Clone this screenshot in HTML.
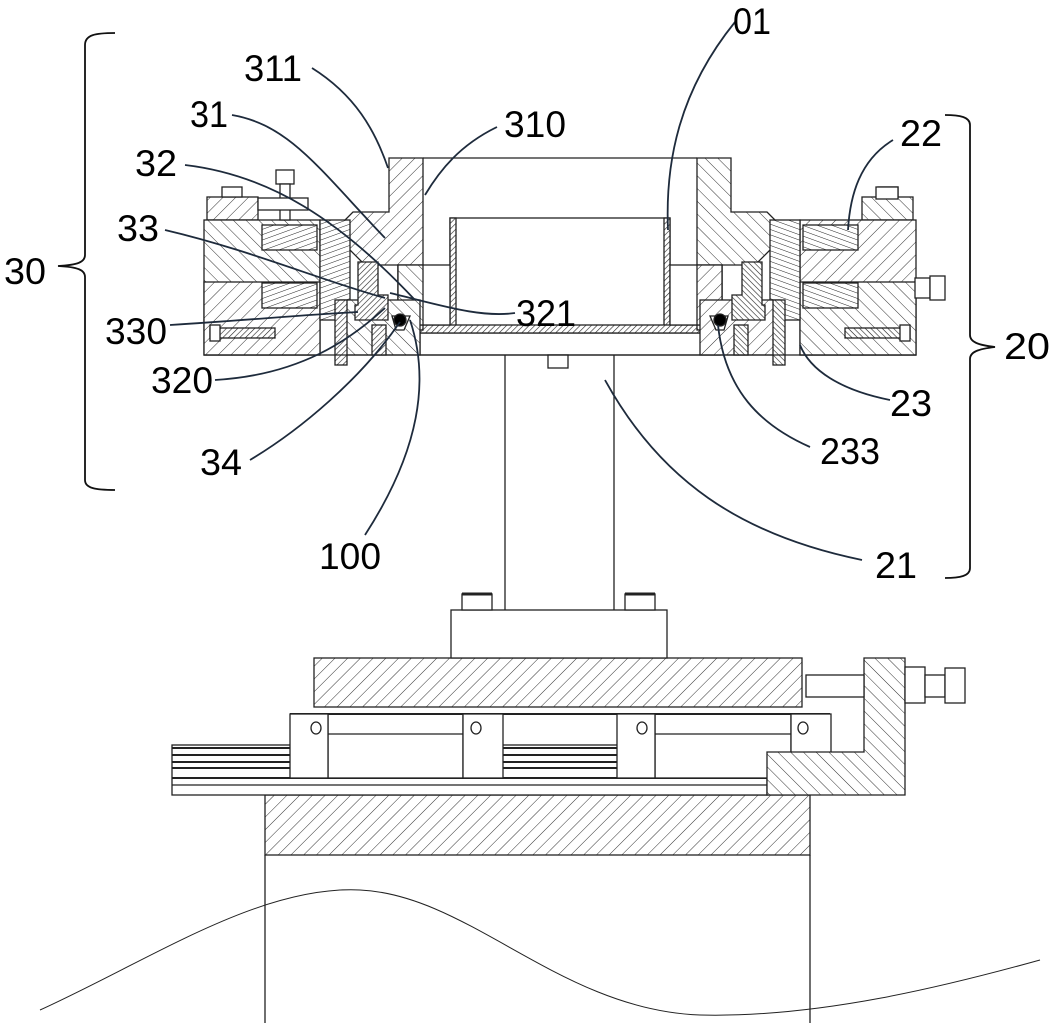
<!DOCTYPE html>
<html><head><meta charset="utf-8"><style>html,body{margin:0;padding:0;background:#fff}svg{display:block}</style></head>
<body>
<svg width="1054" height="1023" viewBox="0 0 1054 1023" xmlns="http://www.w3.org/2000/svg">
<defs>
<pattern id="h" width="9" height="9" patternUnits="userSpaceOnUse" patternTransform="rotate(45)"><rect width="9" height="9" fill="#fff"/><line x1="0" y1="0" x2="0" y2="9" stroke="#333" stroke-width="1"/></pattern>
<pattern id="h2" width="9" height="9" patternUnits="userSpaceOnUse" patternTransform="rotate(-45)"><rect width="9" height="9" fill="#fff"/><line x1="0" y1="0" x2="0" y2="9" stroke="#333" stroke-width="1"/></pattern>
<pattern id="f" width="4" height="4" patternUnits="userSpaceOnUse" patternTransform="rotate(45)"><rect width="4" height="4" fill="#fff"/><line x1="0" y1="0" x2="0" y2="4" stroke="#222" stroke-width="1.2"/></pattern>
<pattern id="fh" width="5" height="5" patternUnits="userSpaceOnUse" patternTransform="rotate(-20)"><rect width="5" height="5" fill="#fff"/><line x1="0" y1="0" x2="5" y2="0" stroke="#222" stroke-width="1"/></pattern>
</defs>
<g stroke="#222" stroke-width="1.3" fill="none">
<rect x="265" y="795" width="545" height="60" fill="url(#h)"/>
<line x1="265" y1="855" x2="265" y2="1023"/><line x1="810" y1="855" x2="810" y2="1023"/>
<path d="M40,1010 C150,960 260,885 360,890 C470,895 560,1010 700,1015 C820,1018 950,985 1040,960" stroke-width="1"/>
<rect x="172" y="745" width="595" height="50" fill="#fff"/>
<g stroke-width="2"><line x1="172" y1="748" x2="767" y2="748"/><line x1="172" y1="755" x2="767" y2="755"/><line x1="172" y1="762" x2="767" y2="762"/><line x1="172" y1="768" x2="767" y2="768"/><line x1="172" y1="778" x2="767" y2="778"/></g>
<line x1="172" y1="785" x2="767" y2="785"/>
<rect x="328" y="714" width="135" height="64" fill="#fff"/><rect x="655" y="714" width="136" height="64" fill="#fff"/>
<line x1="328" y1="734" x2="463" y2="734"/><line x1="655" y1="734" x2="791" y2="734"/>
<line x1="290" y1="714" x2="830" y2="714" stroke-width="2"/>
<rect x="290" y="714" width="38" height="64" fill="#fff"/><rect x="463" y="714" width="40" height="64" fill="#fff"/>
<rect x="617" y="714" width="38" height="64" fill="#fff"/><rect x="791" y="714" width="40" height="64" fill="#fff"/>
<ellipse cx="316" cy="728" rx="5" ry="6"/><ellipse cx="476" cy="728" rx="5" ry="6"/><ellipse cx="642" cy="728" rx="5" ry="6"/><ellipse cx="803" cy="728" rx="5" ry="6"/>
<path d="M767,752 L864,752 L864,658 L905,658 L905,795 L767,795 Z" fill="url(#h2)"/>
<rect x="806" y="675" width="58" height="22" fill="#fff"/>
<rect x="905" y="667" width="20" height="36" fill="#fff"/><rect x="925" y="675" width="20" height="22" fill="#fff"/><rect x="945" y="668" width="20" height="35" fill="#fff"/>
<rect x="314" y="658" width="488" height="49" fill="url(#h)"/>
<rect x="451" y="610" width="216" height="48" fill="#fff"/>
<line x1="505" y1="355" x2="505" y2="610"/><line x1="614" y1="355" x2="614" y2="610"/>
<rect x="462" y="594" width="30" height="16" fill="#fff"/><line x1="462" y1="594" x2="492" y2="594" stroke-width="3"/>
<rect x="625" y="594" width="30" height="16" fill="#fff"/><line x1="625" y1="594" x2="655" y2="594" stroke-width="3"/>
<rect x="420" y="333" width="300" height="22" fill="#fff"/>
<rect x="548" y="355" width="20" height="13" fill="#fff"/>
<rect x="450" y="218" width="220" height="110" fill="#fff"/>
<rect x="450" y="218" width="6" height="110" fill="url(#f)"/><rect x="664" y="218" width="6" height="110" fill="url(#f)"/>
<rect x="420" y="325" width="280" height="8" fill="url(#f)"/>
<line x1="423" y1="158" x2="697" y2="158"/>
<g id="L">
<path d="M389,158 L423,158 L423,330 L398,330 L398,265 L365,265 L340,240 L340,225 L353,212 L389,212 Z" fill="url(#h)"/>
<rect x="398" y="265" width="52" height="60" fill="#fff"/>
<rect x="398" y="265" width="25" height="60" fill="url(#h2)"/>
<rect x="207" y="197" width="51" height="23" fill="url(#h)"/>
<rect x="222" y="187" width="20" height="10" fill="#fff"/>
<rect x="204" y="220" width="116" height="135" fill="url(#h2)"/>
<rect x="204" y="282" width="116" height="73" fill="url(#h)"/>
<rect x="320" y="220" width="30" height="100" fill="url(#fh)"/>
<rect x="262" y="225" width="55" height="25" fill="url(#fh)"/>
<rect x="262" y="283" width="55" height="25" fill="url(#fh)"/>
<rect x="340" y="300" width="80" height="55" fill="url(#h2)"/>
<path d="M358,262 L378,262 L378,295 L388,295 L388,320 L355,320 L355,305 L358,305 Z" fill="url(#f)"/>
<rect x="335" y="300" width="12" height="65" fill="url(#f)"/>
<rect x="372" y="325" width="14" height="30" fill="url(#f)"/>
<rect x="210" y="328" width="65" height="10" fill="url(#f)"/>
<rect x="210" y="325" width="10" height="16" fill="#fff"/>
<path d="M392,316 L410,316 L404,330 L396,330 Z" fill="#fff"/>
<circle cx="400" cy="320" r="6" fill="#000"/>
<line x1="204" y1="355" x2="560" y2="355"/>
</g>
<use href="#L" transform="translate(1120,0) scale(-1,1)"/>
<rect x="276" y="170" width="18" height="14" fill="#fff"/><rect x="280" y="184" width="10" height="36" fill="#fff"/>
<rect x="258" y="198" width="50" height="12" fill="#fff"/>
<rect x="915" y="278" width="15" height="20" fill="#fff"/><rect x="930" y="276" width="15" height="24" fill="#fff"/>
<rect x="876" y="187" width="22" height="12" fill="#fff"/>
</g>
<g stroke="#1e2b3c" stroke-width="1.8" fill="none">
<path d="M312,68 C355,95 375,130 388,168"/>
<path d="M232,115 C290,125 320,170 385,238"/>
<path d="M497,127 C460,145 440,170 425,195"/>
<path d="M185,165 C270,175 340,220 415,300"/>
<path d="M165,230 C250,250 320,280 385,298"/>
<path d="M170,325 C250,320 300,315 358,312"/>
<path d="M515,313 C480,318 440,305 390,293"/>
<path d="M215,380 C300,375 350,340 385,308"/>
<path d="M250,460 C300,430 360,380 400,322"/>
<path d="M365,535 C420,450 430,380 410,320"/>
<path d="M735,22 C680,90 665,160 668,230"/>
<path d="M893,140 C860,160 850,195 848,230"/>
<path d="M890,400 C840,390 810,370 800,345"/>
<path d="M810,447 C760,425 725,390 718,325"/>
<path d="M862,560 C740,535 660,480 605,380"/>
</g>
<g stroke="#111" stroke-width="1.8" fill="none">
<path d="M115,33 C95,33 85,35 85,45 L85,255 C85,262 78,265 58,266 C78,267 85,270 85,277 L85,480 C85,488 95,490 115,490"/>
<path d="M945,115 C960,115 970,117 970,125 L970,335 C970,342 978,345 995,347 C978,349 970,352 970,359 L970,568 C970,576 960,578 945,578"/>
</g>
<g font-family="Liberation Sans, sans-serif" font-size="37" fill="#000">
<text x="733" y="34" textLength="38" lengthAdjust="spacingAndGlyphs">01</text>
<text x="244" y="81" textLength="58" lengthAdjust="spacingAndGlyphs">311</text>
<text x="190" y="127" textLength="38" lengthAdjust="spacingAndGlyphs">31</text>
<text x="504" y="137" textLength="62" lengthAdjust="spacingAndGlyphs">310</text>
<text x="135" y="176" textLength="42" lengthAdjust="spacingAndGlyphs">32</text>
<text x="117" y="241" textLength="42" lengthAdjust="spacingAndGlyphs">33</text>
<text x="4" y="284" textLength="42" lengthAdjust="spacingAndGlyphs">30</text>
<text x="105" y="344" textLength="62" lengthAdjust="spacingAndGlyphs">330</text>
<text x="516" y="326" textLength="60" lengthAdjust="spacingAndGlyphs">321</text>
<text x="151" y="393" textLength="62" lengthAdjust="spacingAndGlyphs">320</text>
<text x="200" y="475" textLength="42" lengthAdjust="spacingAndGlyphs">34</text>
<text x="319" y="569" textLength="62" lengthAdjust="spacingAndGlyphs">100</text>
<text x="900" y="146" textLength="42" lengthAdjust="spacingAndGlyphs">22</text>
<text x="1004" y="359" textLength="46" lengthAdjust="spacingAndGlyphs">20</text>
<text x="890" y="416" textLength="42" lengthAdjust="spacingAndGlyphs">23</text>
<text x="820" y="464" textLength="60" lengthAdjust="spacingAndGlyphs">233</text>
<text x="875" y="578" textLength="42" lengthAdjust="spacingAndGlyphs">21</text>
</g>
</svg>
</body></html>
